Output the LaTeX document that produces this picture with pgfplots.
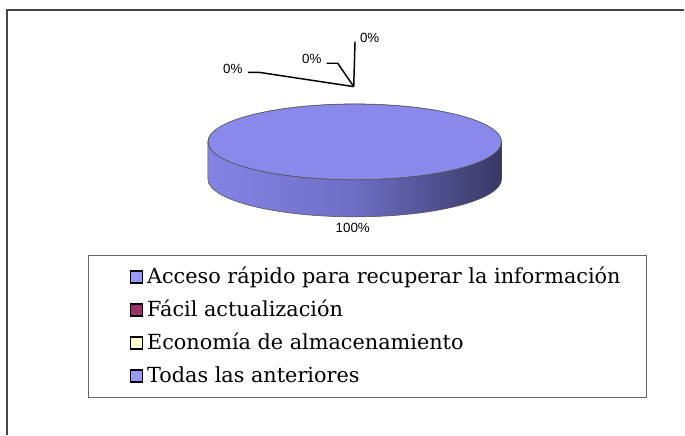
\documentclass[border=0pt]{standalone}
\usepackage{pgfplots}
\pgfplotsset{compat=1.18}
\usepackage{fontspec}
\setmainfont{DejaVu Serif}
\newfontfamily\lblfont{Liberation Sans}
\definecolor{serA}{RGB}{153,153,255}
\definecolor{serB}{RGB}{153,51,102}
\definecolor{serC}{RGB}{255,255,204}
\definecolor{serD}{RGB}{153,153,255}
\definecolor{pieTop}{RGB}{137,137,236}
\definecolor{sideL}{RGB}{132,132,230}
\definecolor{sideM}{RGB}{110,110,196}
\definecolor{sideR}{RGB}{56,56,100}
\definecolor{frameGray}{RGB}{70,70,70}

% 1 px of the reference = 0.75pt, axis units are pixels (y counted from the bottom)
\pgfplotsset{
  sq/.style={legend image code/.code={
    \path (-14.5pt,0) (10pt,0);
    \draw[line width=0.9pt, fill=#1] (0,-4.5pt) rectangle (9pt,4.5pt);
  }}
}

\begin{document}
\begin{tikzpicture}
\begin{axis}[
  hide axis, scale only axis,
  width=513.75pt, height=326.25pt,
  xmin=0, xmax=685, ymin=0, ymax=435,
  clip=false,
  legend style={
    at={(axis cs:88,180)}, anchor=north west,
    draw=gray!80!black, line width=0.6pt,
    inner xsep=17pt, inner ysep=4pt,
    font=\fontsize{15.6}{18}\selectfont,
    cells={anchor=west},
    nodes={inner xsep=2pt, inner ysep=0pt, text height=17.5pt, text depth=7.25pt},
  },
]
% frame of the chart area
\draw[frameGray, line width=0.8pt] (axis cs:7,0) -- (axis cs:7,425) -- (axis cs:685,425);
\path (axis cs:0,0) rectangle (axis cs:685,435);

% pie: one slice holds 100 %, the others 0 %
\shade[left color=sideL, right color=sideR, middle color=sideM]
  (axis cs:208,293) -- (axis cs:208,256)
  arc[start angle=180, end angle=360, x radius=110.25pt, y radius=28.5pt]
  -- (axis cs:502,293)
  arc[start angle=0, end angle=-180, x radius=110.25pt, y radius=28.5pt] -- cycle;
\draw[black!70, line width=0.4pt]
  (axis cs:208,293) -- (axis cs:208,256)
  arc[start angle=180, end angle=360, x radius=110.25pt, y radius=28.5pt]
  -- (axis cs:502,293);
\draw[fill=pieTop, black!70, line width=0.4pt]
  (axis cs:355,293) ellipse [x radius=110.25pt, y radius=28.5pt];
\fill[pieTop] (axis cs:355,293) ellipse [x radius=109.8pt, y radius=28.1pt];

% data labels and leader lines
\draw[black, line width=1.1pt] (axis cs:355.3,393.3) -- (axis cs:354,348.3);
\draw[black, line width=1.1pt] (axis cs:327,371.7) -- (axis cs:338,371.7) -- (axis cs:354,348.3);
\draw[black, line width=1.1pt] (axis cs:248,362.5) -- (axis cs:260,362.5) -- (axis cs:354,348.3);
\node[font=\lblfont\fontsize{10}{12}\selectfont] at (axis cs:370,397.5) {0\%};
\node[font=\lblfont\fontsize{10}{12}\selectfont] at (axis cs:312,376) {0\%};
\node[font=\lblfont\fontsize{10}{12}\selectfont] at (axis cs:233,366) {0\%};
\node[font=\lblfont\fontsize{10}{12}\selectfont] at (axis cs:353,207) {100\%};

\addlegendimage{sq=serA}
\addlegendentry{Acceso rápido para recuperar la información}
\addlegendimage{sq=serB}
\addlegendentry{Fácil actualización}
\addlegendimage{sq=serC}
\addlegendentry{Economía de almacenamiento}
\addlegendimage{sq=serD}
\addlegendentry{Todas las anteriores}
\end{axis}
\end{tikzpicture}
\end{document}
